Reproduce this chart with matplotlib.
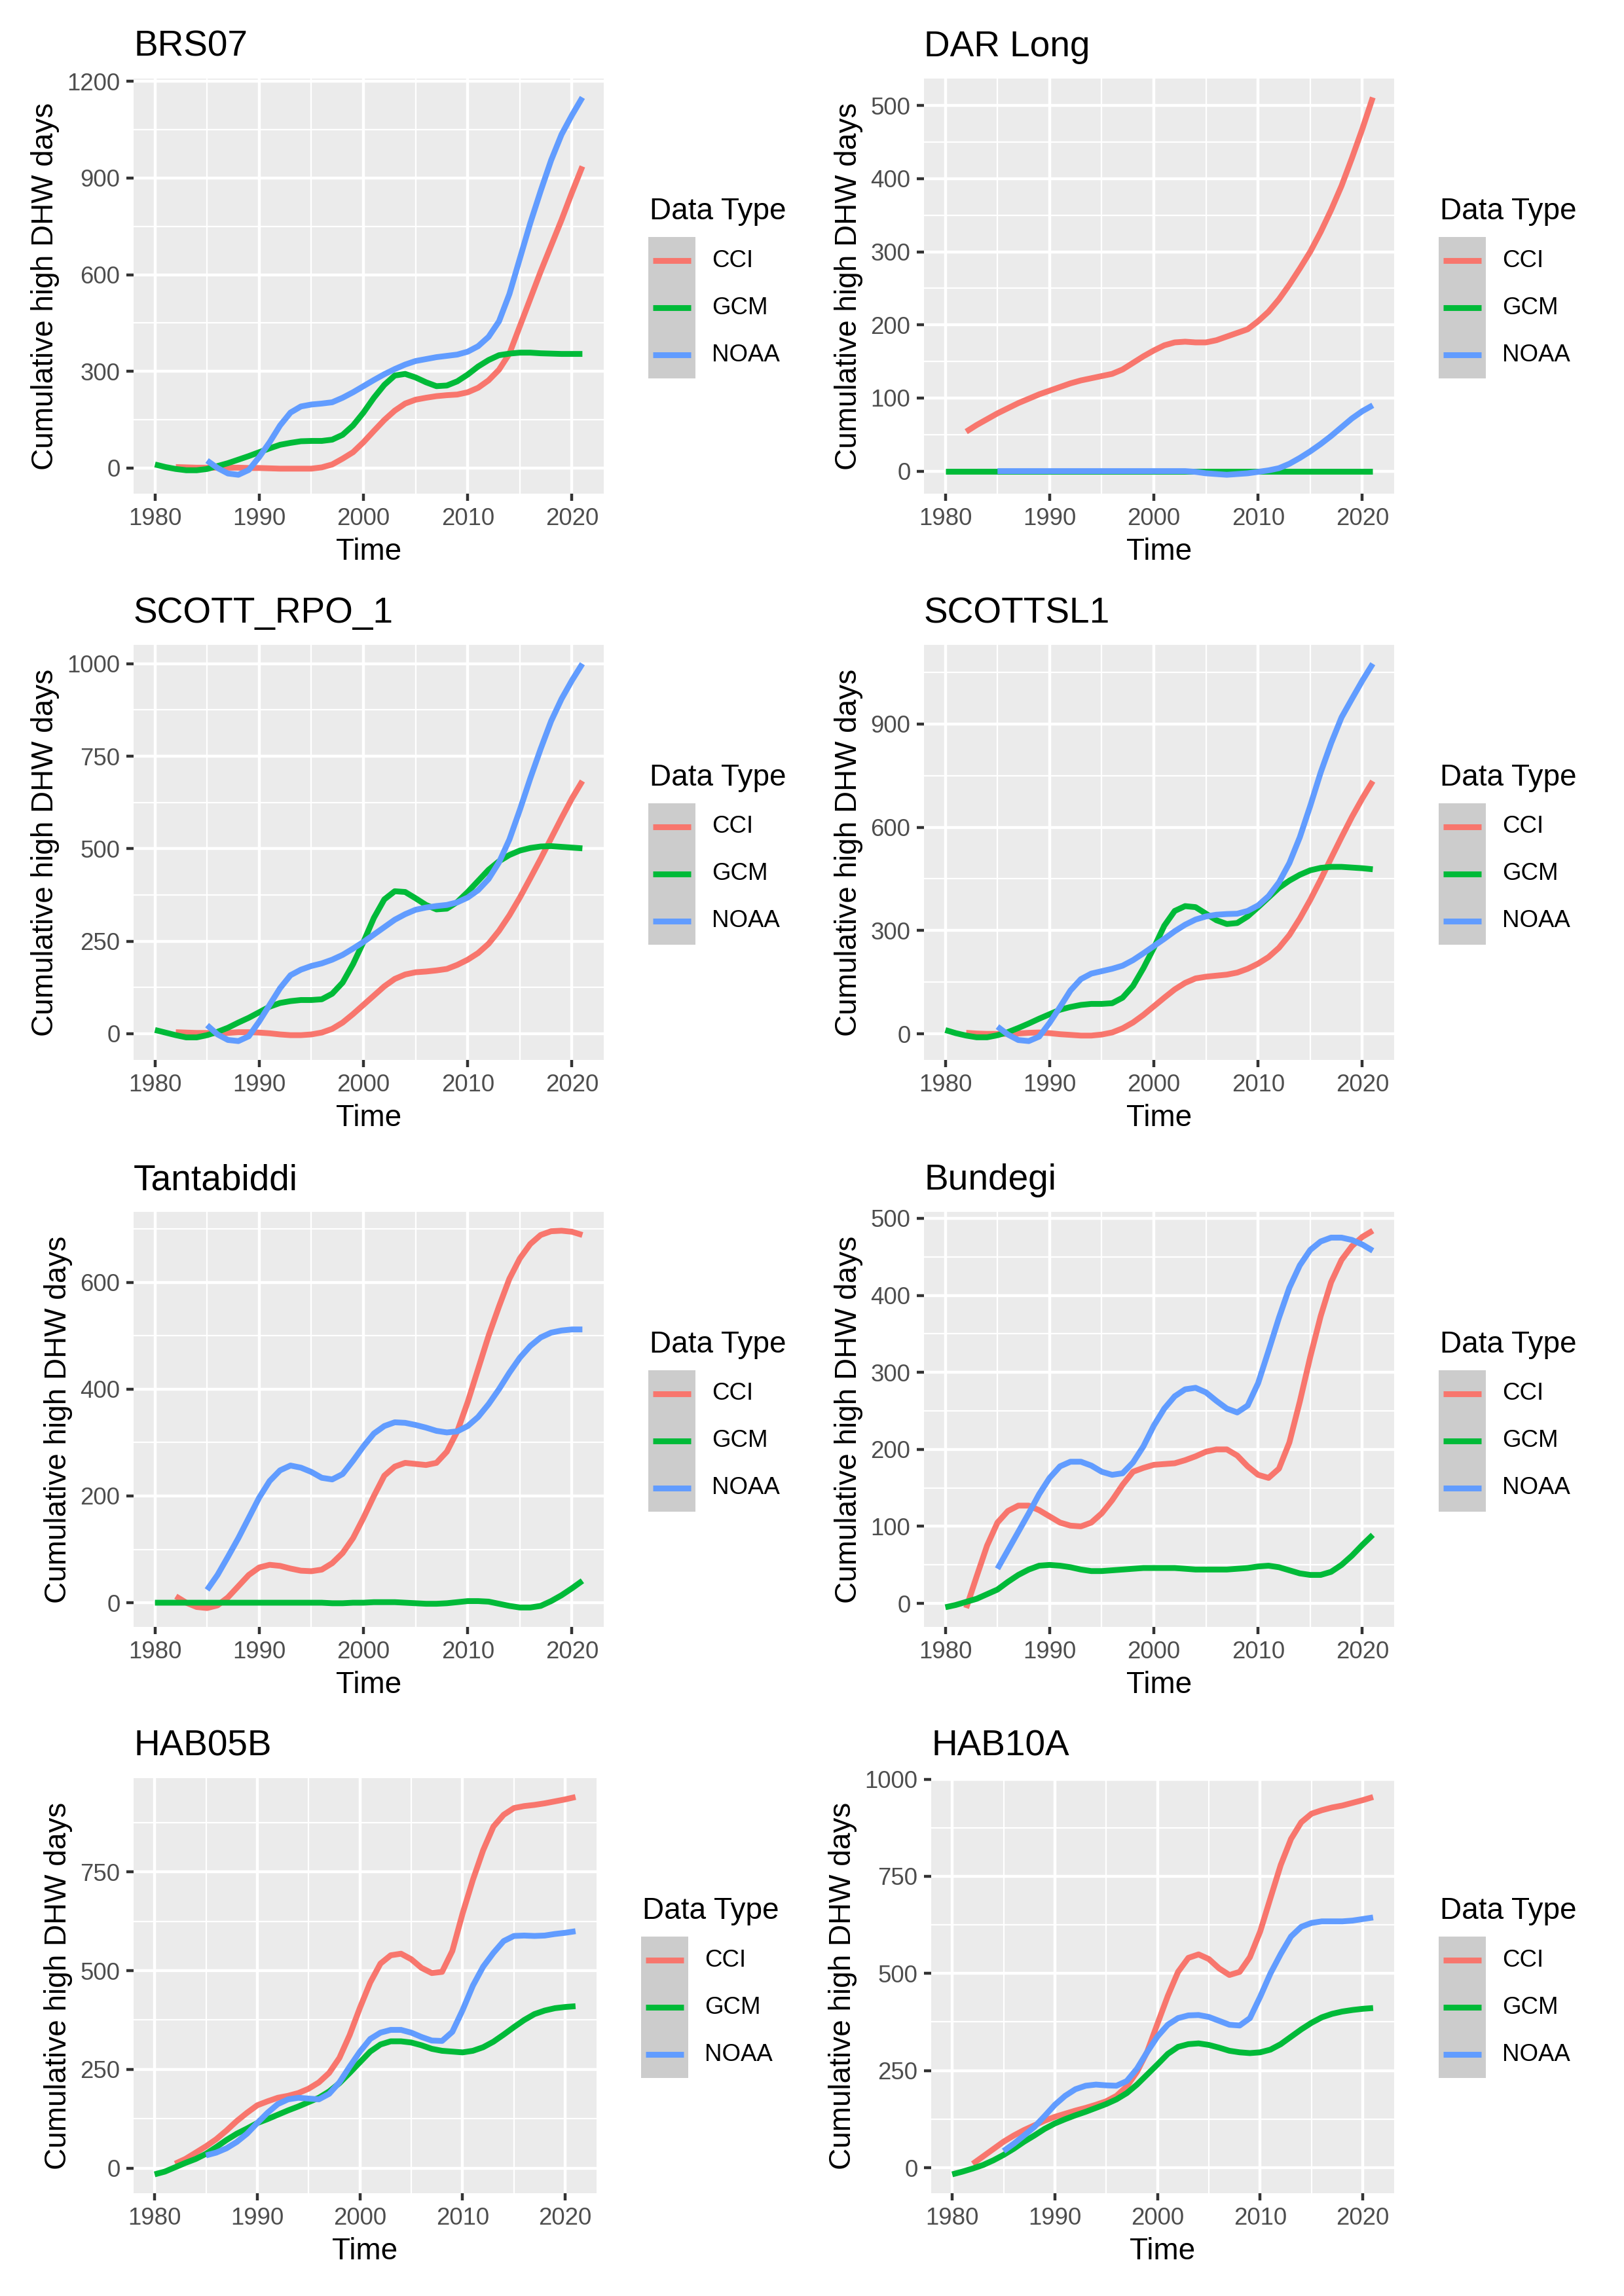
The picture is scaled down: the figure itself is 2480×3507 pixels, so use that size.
import matplotlib
matplotlib.use("Agg")
import matplotlib.pyplot as plt
from matplotlib.lines import Line2D
from matplotlib.patches import Rectangle

plt.rcParams['font.family'] = ['Liberation Sans', 'DejaVu Sans']

# ---------------- data ----------------
sites = ["BRS07", "DAR Long", "SCOTT_RPO_1", "SCOTTSL1",
         "Tantabiddi", "Bundegi", "HAB05B", "HAB10A"]
series_names = ["CCI", "GCM", "NOAA"]
series_colors = ["#F8766D", "#00BA38", "#619CFF"]

cci_years = list(range(1982, 2022))
gcm_years = list(range(1980, 2022))
noaa_years = list(range(1985, 2022))

brs07_cci = [3, 2, 1, 1, 1, 1, 1, 0, 0, -1, -2, -2, -2, -2, 2, 11, 29, 49, 80, 115,
             149, 178, 200, 212, 218, 223, 226, 228, 235, 249, 272, 305, 355, 440, 525, 610, 690, 770, 855, 936]
brs07_gcm = [11, 3, -3, -7, -7, -3, 6, 15, 26, 37, 49, 61, 72, 78, 83, 84, 84, 88, 103, 132,
             172, 218, 258, 287, 292, 281, 266, 254, 256, 269, 290, 315, 335, 350, 355, 358, 358, 356, 355, 354,
             354, 354]
brs07_noaa = [23, 0, -17, -21, -6, 34, 80, 132, 172, 191, 197, 200, 204, 218, 235, 254, 273, 291, 307, 321,
              332, 338, 344, 348, 352, 361, 378, 407, 455, 540, 650, 760, 860, 955, 1035, 1095, 1150]

darlong_cci = [54, 63, 71, 79, 86, 93, 99, 105, 110, 115, 120, 124, 127, 130, 133, 139, 148, 157, 165, 172,
               176, 177, 176, 176, 179, 184, 189, 194, 205, 218, 235, 255, 277, 300, 327, 357, 390, 428, 468, 511]
darlong_gcm = [0] * 42
darlong_noaa = [0] * 19 + [-1, -3, -4, -5, -4, -3, -1, 1, 4, 10, 18, 27, 37, 48, 60, 72, 82, 90]

scottrpo_cci = [4, 3, 2, 2, 1, 2, 4, 4, 3, 1, -2, -4, -4, -2, 3, 13, 30, 53, 78, 103,
                128, 148, 160, 166, 168, 171, 175, 186, 200, 218, 243, 278, 320, 368, 420, 473, 528, 583, 636, 683]
scottrpo_gcm = [10, 3, -4, -10, -10, -4, 5, 16, 30, 43, 58, 73, 83, 88, 91, 91, 93, 108, 138, 188,
                248, 313, 363, 385, 383, 366, 348, 336, 338, 356, 383, 413, 443, 466, 483, 495, 502, 506, 507, 505,
                503, 501]
scottrpo_noaa = [23, -2, -17, -20, -7, 33, 78, 123, 158, 173, 183, 190, 200, 213, 230, 248, 268, 288, 308, 323,
                 335, 341, 345, 348, 355, 368, 388, 418, 463, 525, 605, 690, 770, 845, 905, 955, 1000]

scottsl1_cci = [3, 1, 0, 0, 0, 1, 3, 4, 2, -1, -3, -5, -5, -2, 4, 16, 33, 55, 80, 105,
                129, 148, 161, 166, 169, 172, 178, 189, 204, 223, 250, 287, 335, 389, 448, 510, 571, 630, 684, 734]
scottsl1_gcm = [11, 2, -5, -10, -10, -4, 5, 17, 30, 44, 57, 70, 78, 84, 87, 87, 89, 105, 139, 191,
                250, 314, 357, 371, 368, 349, 330, 319, 322, 341, 368, 396, 424, 445, 462, 475, 482, 485, 485, 483,
                481, 478]
scottsl1_noaa = [21, -2, -18, -21, -8, 32, 78, 126, 159, 175, 182, 189, 198, 214, 234, 255, 276, 298, 317, 332,
                 341, 346, 348, 349, 357, 373, 400, 440, 496, 571, 662, 759, 844, 919, 973, 1026, 1075]

tanta_cci = [12, 0, -8, -10, -5, 10, 31, 52, 66, 71, 69, 64, 60, 59, 62, 74, 93, 121, 159, 200,
             238, 255, 262, 260, 258, 262, 283, 321, 376, 438, 500, 555, 607, 645, 672, 689, 696, 697, 695, 689]
tanta_gcm = [0] * 17 + [-1, -1, 0, 0, 1, 1, 1, 0, -1, -2, -2, -1, 1, 3, 3, 2, -2, -6, -9, -9, -6, 3, 14, 27, 41]
tanta_noaa = [24, 52, 86, 121, 159, 197, 228, 248, 257, 253, 245, 234, 231, 241, 266, 293, 317, 331, 338, 337,
              333, 328, 322, 319, 321, 331, 348, 372, 400, 431, 459, 481, 497, 506, 510, 512, 512]

bundegi_cci = [-6, 35, 75, 105, 120, 127, 127, 121, 113, 105, 101, 100, 105, 117, 134, 154, 171, 176, 180, 181,
               182, 186, 191, 197, 200, 200, 192, 178, 167, 163, 175, 209, 262, 320, 373, 417, 446, 464, 476, 484]
bundegi_gcm = [-5, -2, 2, 6, 12, 18, 28, 37, 44, 49, 50, 49, 47, 44, 42, 42, 43, 44, 45, 46,
               46, 46, 46, 45, 44, 44, 44, 44, 45, 46, 48, 49, 47, 43, 39, 37, 37, 41, 50, 62,
               76, 89]
bundegi_noaa = [45, 69, 93, 117, 142, 163, 178, 184, 184, 179, 171, 167, 169, 183, 204, 231, 253, 269, 278, 280,
                274, 263, 253, 248, 257, 286, 328, 371, 410, 439, 459, 470, 475, 475, 472, 466, 458]

hab05b_cci = [11, 23, 39, 55, 73, 95, 119, 140, 159, 169, 178, 183, 190, 201, 217, 241, 279, 337, 406, 470,
              518, 539, 543, 529, 507, 494, 497, 550, 645, 730, 805, 865, 895, 912, 917, 920, 924, 929, 934, 940]
hab05b_gcm = [-16, -9, 2, 13, 23, 36, 53, 71, 87, 100, 114, 124, 135, 146, 156, 167, 178, 194, 215, 241,
              268, 295, 313, 321, 321, 318, 311, 302, 297, 295, 293, 297, 306, 320, 338, 357, 375, 390, 399, 405,
              408, 410]
hab05b_noaa = [32, 39, 50, 66, 87, 114, 140, 162, 174, 178, 176, 174, 188, 217, 257, 295, 327, 343, 350, 350,
               343, 332, 323, 322, 345, 400, 462, 510, 545, 575, 588, 589, 588, 589, 593, 596, 600]

hab10a_cci = [10, 29, 48, 67, 83, 97, 109, 121, 131, 139, 147, 154, 162, 171, 185, 209, 247, 299, 371, 442,
              504, 540, 549, 537, 513, 496, 504, 542, 608, 694, 779, 846, 889, 911, 920, 927, 932, 939, 946, 954]
hab10a_gcm = [-17, -10, -2, 7, 19, 33, 49, 67, 83, 100, 114, 125, 135, 144, 154, 164, 176, 192, 214, 240,
              266, 293, 311, 318, 320, 316, 309, 301, 297, 295, 297, 304, 318, 337, 356, 373, 387, 396, 402, 406,
              409, 411]
hab10a_noaa = [43, 62, 83, 105, 133, 162, 185, 202, 211, 214, 212, 211, 223, 255, 298, 338, 368, 385, 392, 393,
               388, 378, 368, 366, 385, 440, 500, 550, 595, 620, 630, 634, 634, 634, 636, 640, 644]

site_series = [
    (brs07_cci, brs07_gcm, brs07_noaa),
    (darlong_cci, darlong_gcm, darlong_noaa),
    (scottrpo_cci, scottrpo_gcm, scottrpo_noaa),
    (scottsl1_cci, scottsl1_gcm, scottsl1_noaa),
    (tanta_cci, tanta_gcm, tanta_noaa),
    (bundegi_cci, bundegi_gcm, bundegi_noaa),
    (hab05b_cci, hab05b_gcm, hab05b_noaa),
    (hab10a_cci, hab10a_gcm, hab10a_noaa),
]
series_years = [cci_years, gcm_years, noaa_years]

y_breaks = [
    [0, 300, 600, 900, 1200],
    [0, 100, 200, 300, 400, 500],
    [0, 250, 500, 750, 1000],
    [0, 300, 600, 900],
    [0, 200, 400, 600],
    [0, 100, 200, 300, 400, 500],
    [0, 250, 500, 750],
    [0, 250, 500, 750, 1000],
]
x_breaks = [1980, 1990, 2000, 2010, 2020]

# ---------------- layout (pixels) ----------------
W, H, DPI = 2480, 3507, 300
PANEL_LEFT = [204, 1411, 204, 1411, 204, 1411, 204, 1422]
PANEL_RIGHT = [922, 2129, 922, 2129, 922, 2129, 911, 2129]
ROW_TOP = [120, 985, 1851, 2716]
PANEL_H = 634

fig = plt.figure(figsize=(W / DPI, H / DPI), dpi=DPI)
fig.patch.set_facecolor("white")


def fx(px):
    return px / W


def fy(py):
    return 1 - py / H


def with_minor(breaks):
    out = []
    for a, b in zip(breaks[:-1], breaks[1:]):
        out.append((a + b) / 2)
    step = breaks[1] - breaks[0]
    out = [breaks[0] - step / 2] + out + [breaks[-1] + step / 2]
    return out


for i, site in enumerate(sites):
    row = i // 2
    left, right = PANEL_LEFT[i], PANEL_RIGHT[i]
    top = ROW_TOP[row]
    ax = fig.add_axes([fx(left), fy(top + PANEL_H), (right - left) / W, PANEL_H / H])
    ax.set_facecolor("#EBEBEB")
    for s in ax.spines.values():
        s.set_visible(False)

    allv = []
    for k in range(3):
        vals = site_series[i][k]
        allv += vals
        ax.plot(series_years[k], vals, color=series_colors[k], lw=2.13,
                solid_capstyle="butt", solid_joinstyle="round", zorder=3)

    ax.set_xticks(x_breaks)
    ax.set_yticks(y_breaks[i])
    ax.set_xticks([1985, 1995, 2005, 2015], minor=True)
    ax.set_yticks(with_minor(y_breaks[i]), minor=True)
    ax.set_xticklabels([str(v) for v in x_breaks])
    ax.set_yticklabels([str(v) for v in y_breaks[i]])

    # ggplot-like 5% expansion (set after ticks so ticks do not widen limits)
    x0, x1 = 1980, 2021
    dx = (x1 - x0) * 0.05
    ax.set_xlim(x0 - dx, x1 + dx)
    y0, y1 = min(allv), max(allv)
    dy = (y1 - y0) * 0.05
    ax.set_ylim(y0 - dy, y1 + dy)

    ax.grid(which="major", color="white", lw=1.07, zorder=1)
    ax.grid(which="minor", color="white", lw=0.53, zorder=1)
    ax.set_axisbelow(True)
    ax.tick_params(which="major", length=2.75, width=1.07, color="#333333",
                   labelsize=8.8, labelcolor="#4D4D4D", pad=2.2)
    ax.tick_params(which="minor", length=0)

    ax.set_xlabel("Time", fontsize=11, color="black", labelpad=2.75)
    ax.set_ylabel("Cumulative high DHW days", fontsize=11, color="black", labelpad=2.75)

    # title
    fig.text(fx(left), fy(top - 34), site, fontsize=13.2, color="black",
             ha="left", va="baseline")

    # legend
    lg_left = right + 68
    key_top = top + 242
    key_w = 72
    key_h = 72
    fig.text(fx(lg_left + 2), fy(key_top - 27), "Data Type", fontsize=11,
             color="black", ha="left", va="baseline")
    fig.add_artist(Rectangle((fx(lg_left), fy(key_top + 3 * key_h)),
                             key_w / W, 3 * key_h / H, transform=fig.transFigure,
                             facecolor="#CCCCCC", edgecolor="none"))
    for k in range(3):
        cy = key_top + key_h * k + key_h / 2
        fig.add_artist(Line2D([fx(lg_left + 7.2), fx(lg_left + key_w - 7.2)],
                              [fy(cy), fy(cy)], transform=fig.transFigure,
                              color=series_colors[k], lw=2.13, solid_capstyle="butt"))
        fig.text(fx(lg_left + key_w + 25), fy(cy), series_names[k], fontsize=8.8,
                 color="black", ha="left", va="center")

fig.savefig("out.png", dpi=DPI, facecolor="white")
